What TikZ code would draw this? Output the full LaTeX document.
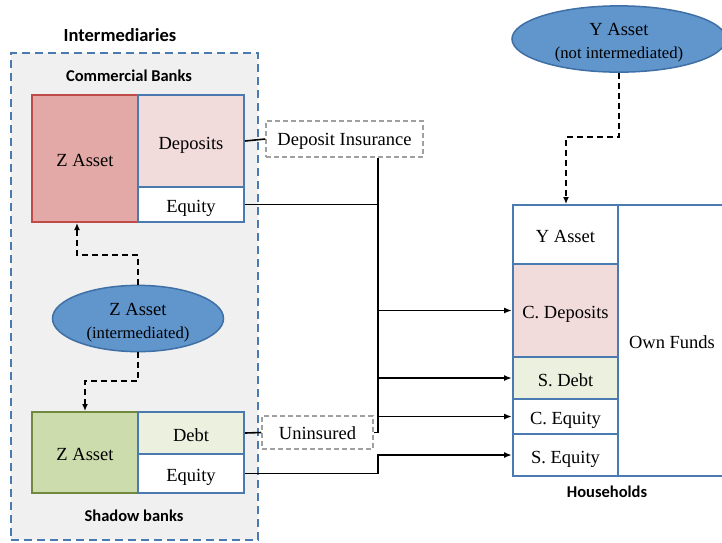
\documentclass[tikz,border=0pt]{standalone}
\usepackage{fontspec}
\setmainfont{Liberation Serif}
\newfontfamily\headfont{Carlito}
\usepackage{tikz}
\usetikzlibrary{
  positioning,
  shapes.geometric,
  arrows.meta
}

\definecolor{cbfill}{HTML}{E3A9A7}
\definecolor{cbline}{HTML}{BE4B48}
\definecolor{pinkfill}{HTML}{F2DCDB}
\definecolor{sbfill}{HTML}{CDDCAC}
\definecolor{sbline}{HTML}{71893F}
\definecolor{debtfill}{HTML}{EBF1DE}
\definecolor{cellblue}{HTML}{4A7AB0}
\definecolor{ellfill}{HTML}{6096CC}
\definecolor{ellline}{HTML}{3E6FA5}
\definecolor{intfill}{HTML}{F0F0F0}
\definecolor{insgray}{HTML}{A0A0A0}

\newcommand\cellfont{\fontsize{18.5}{23.3}\selectfont}
\newcommand\subfont{\fontsize{16.7}{23.3}\selectfont}
\newcommand\toprule{\rule{0pt}{20pt}}

\tikzset{
  cell/.style={draw=cellblue, line width=2pt, fill=white, inner sep=0pt, font=\cellfont,
    text height=16.2pt, text depth=0pt},
  zcell/.style={cell, minimum width=106pt},
  intbox/.style={draw=cellblue, fill=intfill, line width=2pt, dash pattern=on 8pt off 5pt},
  insbox/.style={draw=insgray, fill=white, line width=1.5pt, dash pattern=on 5pt off 3pt, inner sep=0pt, font=\cellfont,
    text height=13pt, text depth=0pt},
  assetell/.style={ellipse, draw=ellline, fill=ellfill, line width=1.5pt, inner sep=0pt, align=center, font=\cellfont},
  heading/.style={font=\headfont\bfseries\fontsize{16.5}{18}\selectfont},
  link/.style={line width=1.6pt},
  flow/.style={link, -{Latex[length=8pt,width=6pt]}},
  dashflow/.style={line width=1.5pt, dash pattern=on 6pt off 4pt, -{Latex[length=7pt,width=6pt]}}
}

\begin{document}
\begin{tikzpicture}[x=1pt, y=-1pt]

	    \useasboundingbox (0,0) rectangle (722,542);
	    \clip (0,0) rectangle (722,542);

	    % intermediaries
	    \node[intbox, minimum width=247pt, minimum height=487pt] (inter) at (134.5,296.5) {};
	    \node[heading, font=\headfont\bfseries\fontsize{18.5}{20}\selectfont] (intertitle) at (120,35) {Intermediaries};
	    \node[heading] (cbtitle) at (129,76) {Commercial Banks};
	    \node[heading] (sbtitle) at (134,516) {Shadow banks};

	    % commercial banks
	    \node[zcell, draw=cbline, fill=cbfill, minimum height=127pt] (cbz) at (85,158.5) {Z Asset};
	    \node[zcell, fill=pinkfill, minimum height=92pt] (cbdep) at (191,141) {Deposits};
	    \node[zcell, minimum height=35pt] (cbeq) at (191,204.5) {Equity};

	    % shadow banks
	    \node[zcell, draw=sbline, fill=sbfill, minimum height=81pt] (sbz) at (85,452.5) {Z Asset};
	    \node[zcell, fill=debtfill, minimum height=42pt] (sbdebt) at (191,433) {Debt};
	    \node[zcell, minimum height=39pt] (sbeq) at (191,473.5) {Equity};

	    % intermediated asset
	    \node[assetell, minimum width=171pt, minimum height=63pt] (zell) at (138,318.5)
	        {\toprule Z Asset\\{\subfont(intermediated)}};

	    % insurance
	    \node[insbox, minimum width=157pt, minimum height=36pt] (depins) at (344.5,139) {Deposit Insurance};
	    \node[insbox, minimum width=111pt, minimum height=33pt] (unins) at (317.5,432.5) {Uninsured};

	    % households
	    \node[zcell, minimum width=105pt, minimum height=59pt] (hy) at (565.5,234.5) {Y Asset};
	    \node[zcell, minimum width=105pt, fill=pinkfill, minimum height=93pt] (hcd) at (565.5,310.5) {C. Deposits};
	    \node[zcell, minimum width=105pt, fill=debtfill, minimum height=42pt] (hsd) at (565.5,378) {S. Debt};
	    \node[zcell, minimum width=105pt, minimum height=35pt] (hce) at (565.5,416.5) {C. Equity};
	    \node[zcell, minimum width=105pt, minimum height=42pt] (hse) at (565.5,455) {S. Equity};
	    \node[cell, minimum width=108pt, minimum height=271pt] (own) at (672,340.5) {Own Funds};
	    \node[heading] (htitle) at (607,492) {Households};

	    % non intermediated asset
	    \node[assetell, minimum width=214pt, minimum height=64pt] (yell) at (619,39)
	        {\toprule Y Asset\\{\subfont(not intermediated)}};

	    % dashed asset flows
	    \coordinate (zup) at (77,255);
	    \coordinate (zdown) at (85,381);
	    \coordinate (ybend) at (566,137);
	    \draw[dashflow] (zell.north) |- (zup) -- (zup |- cbz.south);
	    \draw[dashflow] (zell.south) |- (zdown) -- (sbz.north);
	    \draw[dashflow] (yell.south) |- (ybend) -- (ybend |- hy.north);

	    % claims
	    \coordinate (bus) at (378,0);
	    \draw[link] (cbdep.east) -- (depins.west);
	    \draw[link] (sbdebt.east) -- (unins.west);
	    \draw[link]
	        (depins.south -| bus) -- (unins.east -| bus) -- (unins.east);
	    \draw[link] (cbeq.east) -- (cbeq.east -| bus);
	    \draw[flow] (hcd.west -| bus) -- (hcd.west);
	    \draw[flow] (hsd.west -| bus) -- (hsd.west);
	    \draw[flow] (hce.west -| bus) -- (hce.west);
	    \draw[flow] (sbeq.east) -- (sbeq.east -| bus) |- (hse.west);

\end{tikzpicture}
\end{document}
